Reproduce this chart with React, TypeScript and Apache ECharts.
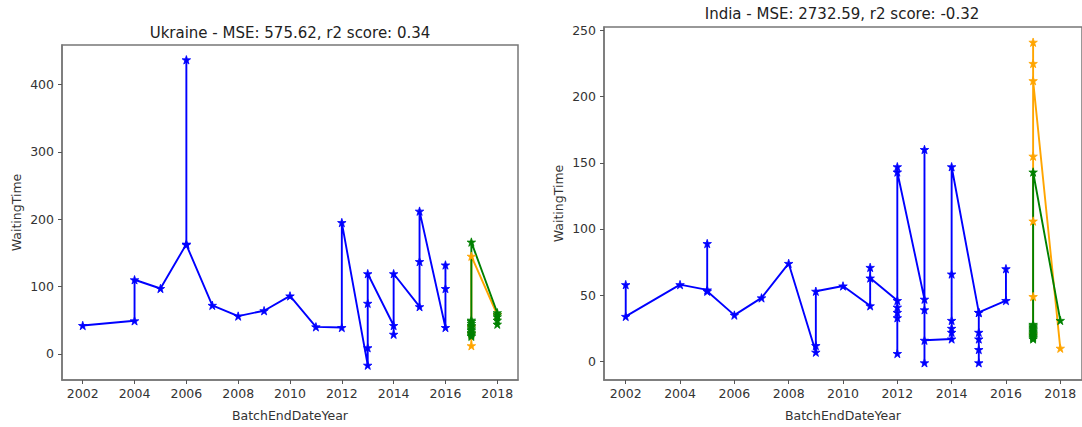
import React, { useEffect, useRef } from "react";
import * as echarts from "echarts";

// ---- data ----
const xTickLabels = [2002, 2004, 2006, 2008, 2010, 2012, 2014, 2016, 2018];
const ukraineYTicks = [0, 100, 200, 300, 400];
const indiaYTicks = [0, 50, 100, 150, 200, 250];

const ukraineTitle = "Ukraine - MSE: 575.62, r2 score: 0.34";
const indiaTitle = "India - MSE: 2732.59, r2 score: -0.32";
const xAxisName = "BatchEndDateYear";
const yAxisName = "WaitingTime";

const ukraineBlueYears = [2002, 2004, 2004, 2005, 2006, 2006, 2006, 2007, 2008, 2009, 2010, 2011, 2012, 2012, 2013, 2013, 2013, 2013, 2014, 2014, 2014, 2015, 2015, 2015, 2016, 2016, 2016];
const ukraineBlueValues = [42, 49, 110, 97, 163, 437, 162, 72, 56, 64, 86, 40, 39, 195, -17, 9, 75, 119, 42, 29, 119, 70, 137, 212, 39, 97, 132];
const ukraineOrangeYears = [2017, 2017, 2017, 2017, 2018];
const ukraineOrangeValues = [12, 30, 40, 145, 58];
const ukraineGreenYears = [2017, 2017, 2017, 2017, 2017, 2017, 2017, 2017, 2017, 2017, 2017, 2017, 2018, 2018, 2018, 2018, 2018];
const ukraineGreenValues = [50, 48, 45, 42, 40, 37, 35, 32, 30, 28, 26, 166, 61, 58, 55, 50, 44];

const indiaBlueYears = [2002, 2002, 2004, 2005, 2005, 2005, 2006, 2007, 2008, 2009, 2009, 2009, 2010, 2011, 2011, 2011, 2012, 2012, 2012, 2012, 2012, 2012, 2012, 2013, 2013, 2013, 2013, 2013, 2014, 2014, 2014, 2014, 2014, 2014, 2015, 2015, 2015, 2015, 2015, 2015, 2016, 2016];
const indiaBlueValues = [58, 34, 58, 54, 89, 53, 35, 48, 74, 7, 12, 53, 57, 42, 71, 63, 46, 41, 37, 33, 6, 147, 143, 47, 160, 39, -1, 16, 17, 22, 25, 31, 66, 147, 37, 22, 17, 9, -1, 37, 46, 70];
const indiaOrangeYears = [2017, 2017, 2017, 2017, 2017, 2017, 2017, 2018];
const indiaOrangeValues = [20, 49, 106, 155, 241, 225, 212, 10];
const indiaGreenYears = [2017, 2017, 2017, 2017, 2017, 2017, 2017, 2017, 2017, 2017, 2017, 2017, 2017, 2018];
const indiaGreenValues = [17, 18, 19, 20, 21, 22, 23, 24, 25, 26, 27, 28, 143, 31];

// ---- styling ----
const FONT = "DejaVu Sans";
const STAR =
  "path://M0,-1L0.2245,-0.309L0.951,-0.309L0.3633,0.118L0.588,0.809L0,0.382L-0.588,0.809L-0.3633,0.118L-0.951,-0.309L-0.2245,-0.309Z";
const FRAME = "#777";
const TEXT = "#333";

const zip = (xs: number[], ys: number[]) => xs.map((x, i) => [x, ys[i]]);

function makeX(gridIndex: number) {
  return {
    type: "value",
    gridIndex,
    min: 2001.2,
    max: 2018.8,
    name: xAxisName,
    nameLocation: "middle",
    nameGap: 29,
    nameTextStyle: { fontFamily: FONT, fontSize: 12.5, color: TEXT },
    splitLine: { show: false },
    axisLine: { show: true, onZero: false, lineStyle: { color: FRAME, width: 1.5 } },
    axisTick: { show: true, length: 4, lineStyle: { color: "#555", width: 1 }, customValues: xTickLabels },
    axisLabel: {
      customValues: xTickLabels,
      fontFamily: FONT,
      fontSize: 12.5,
      color: TEXT,
      margin: 7,
      formatter: (v: number) => String(v),
    },
  };
}

function makeY(gridIndex: number, min: number, max: number, ticks: number[]) {
  return {
    type: "value",
    gridIndex,
    min,
    max,
    name: yAxisName,
    nameLocation: "middle",
    nameRotate: 90,
    nameGap: 39,
    nameTextStyle: { fontFamily: FONT, fontSize: 12.5, color: TEXT },
    splitLine: { show: false },
    axisLine: { show: true, onZero: false, lineStyle: { color: FRAME, width: 1.5 } },
    axisTick: { show: true, length: 4, lineStyle: { color: "#555", width: 1 }, customValues: ticks },
    axisLabel: {
      customValues: ticks,
      fontFamily: FONT,
      fontSize: 12.5,
      color: TEXT,
      margin: 8,
      formatter: (v: number) => String(v),
    },
  };
}

function makeSeries(idx: number, color: string, xs: number[], ys: number[]) {
  return {
    type: "line",
    xAxisIndex: idx,
    yAxisIndex: idx,
    data: zip(xs, ys),
    symbol: STAR,
    symbolSize: 8.5,
    showAllSymbol: true,
    lineStyle: { color, width: 1.9 },
    itemStyle: { color, borderColor: color, borderWidth: 0.8 },
    clip: false,
  };
}

export default function App() {
  const ref = useRef<HTMLDivElement>(null);
  useEffect(() => {
    if (!ref.current) return;
    const chart = echarts.init(ref.current, null, { renderer: "svg" });
    chart.setOption({
      animation: false,
      backgroundColor: "#fff",
      grid: [
        { left: 62, top: 45, width: 456, height: 339, show: true, borderColor: FRAME, borderWidth: 1.5 },
        { left: 604, top: 27, width: 479, height: 357, show: true, borderColor: FRAME, borderWidth: 1.5 },
      ],
      xAxis: [makeX(0), makeX(1)],
      yAxis: [makeY(0, -39, 459, ukraineYTicks), makeY(1, -14, 252.5, indiaYTicks)],
      series: [
        makeSeries(0, "#0000ff", ukraineBlueYears, ukraineBlueValues),
        makeSeries(0, "#ffa500", ukraineOrangeYears, ukraineOrangeValues),
        makeSeries(0, "#008000", ukraineGreenYears, ukraineGreenValues),
        makeSeries(1, "#0000ff", indiaBlueYears, indiaBlueValues),
        makeSeries(1, "#ffa500", indiaOrangeYears, indiaOrangeValues),
        makeSeries(1, "#008000", indiaGreenYears, indiaGreenValues),
      ],
      graphic: [
        {
          type: "text",
          x: 290,
          y: 33,
          style: { text: ukraineTitle, align: "center", verticalAlign: "middle", fontFamily: FONT, fontSize: 15, fill: "#222" },
        },
        {
          type: "text",
          x: 842,
          y: 14,
          style: { text: indiaTitle, align: "center", verticalAlign: "middle", fontFamily: FONT, fontSize: 15, fill: "#222" },
        },
      ],
    });
    return () => chart.dispose();
  }, []);
  return (
    <div
      ref={ref}
      style={{ position: "absolute", left: 0, top: 0, width: 1082, height: 427, background: "#fff" }}
    />
  );
}
